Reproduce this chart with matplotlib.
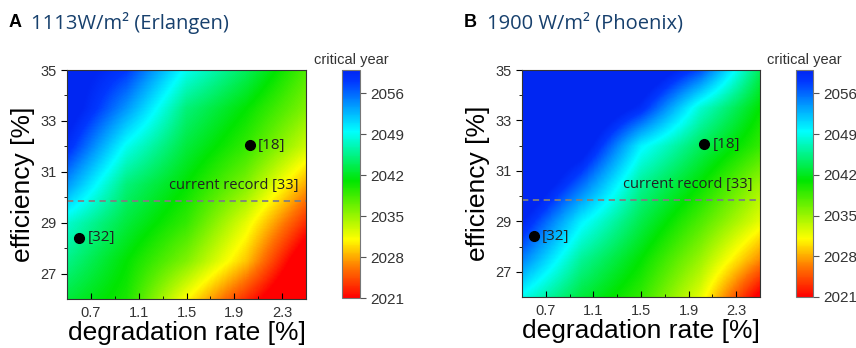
import numpy as np
import matplotlib
matplotlib.use("Agg")
import matplotlib.pyplot as plt
from matplotlib.colors import LinearSegmentedColormap

# grid nodes (degradation rate %, efficiency %)
degradation = [0.5, 1.0, 1.5, 2.0, 2.5]
efficiency = [26, 27.5, 29, 30.5, 32, 33.5, 35]

# critical year at each node, rows = efficiency, cols = degradation
years_erlangen = [
    [2043, 2040, 2031, 2023, 2015],
    [2045.5, 2041, 2036, 2029, 2018],
    [2048, 2043, 2039, 2032, 2023],
    [2054, 2045, 2041, 2036, 2028],
    [2059, 2049, 2043, 2039, 2033],
    [2062, 2054, 2045, 2041, 2036],
    [2062, 2058, 2049, 2044, 2038],
]
years_phoenix = [
    [2049, 2043, 2039, 2032, 2020],
    [2055, 2046, 2041, 2035, 2027],
    [2060, 2050, 2043.5, 2038, 2032],
    [2065, 2056, 2046, 2041, 2035],
    [2066, 2062, 2050, 2044, 2039],
    [2066, 2065, 2059, 2048, 2041],
    [2066, 2066, 2064, 2057, 2044],
]

panel_letters = ["A", "B"]
panel_titles = ["1113W/m² (Erlangen)", "1900 W/m² (Phoenix)"]

# literature points
point_rate = [0.6, 2.03]
point_eff = [28.4, 32.05]
point_labels = ["[32]", "[18]"]
record_eff = 29.85
record_label = "current record [33]"

x_ticks = [0.7, 1.1, 1.5, 1.9, 2.3]
y_ticks = [27, 29, 31, 33, 35]
cbar_ticks = [2021, 2028, 2035, 2042, 2049, 2056]
year_min, year_max = 2021, 2060

# rainbow map red -> yellow -> green -> cyan -> blue
stops = [(2021, (1, 0, 0)), (2026, (1, 0.45, 0)), (2031, (1, 1, 0)),
         (2041, (0, 0.9, 0)), (2049.5, (0, 1, 1)), (2054, (0, 0.6, 1)),
         (2058, (0, 0.22, 1)), (2060, (0, 0.15, 0.95))]
cmap = LinearSegmentedColormap.from_list(
    "crit", [((y - year_min) / (year_max - year_min), c) for y, c in stops])

plt.rcParams["font.family"] = ["Liberation Sans", "DejaVu Sans"]

fig = plt.figure(figsize=(8.56, 3.48), dpi=100)
W, H = 856, 348


def px_axes(x0, y0, x1, y1):
    return fig.add_axes([x0 / W, 1 - y1 / H, (x1 - x0) / W, (y1 - y0) / H])


layout = [
    dict(ax=(67, 70, 306, 299), cb=(342, 70, 360, 298), title_x=9, text_x=31),
    dict(ax=(522, 70, 760, 297), cb=(796, 70, 813, 297), title_x=464, text_x=487),
]

dx = (degradation[1] - degradation[0]) / 2
dy = (efficiency[1] - efficiency[0]) / 2
extent = [degradation[0] - dx, degradation[-1] + dx,
          efficiency[0] - dy, efficiency[-1] + dy]

for i, years in enumerate([years_erlangen, years_phoenix]):
    lay = layout[i]
    ax = px_axes(*lay["ax"])
    im = ax.imshow(np.array(years), origin="lower", extent=extent, aspect="auto",
                   cmap=cmap, vmin=year_min, vmax=year_max,
                   interpolation="bilinear", interpolation_stage="data")
    ax.set_xlim(degradation[0], degradation[-1])
    ax.set_ylim(efficiency[0], efficiency[-1])

    ax.axhline(record_eff, color="#808080", lw=1.3, ls=(0, (3.5, 2.5)))
    ax.text(2.44, record_eff + 0.3, record_label, ha="right", va="bottom",
            fontsize=10.5, color="#222222", family=["Open Sans", "DejaVu Sans"])
    ax.plot(point_rate, point_eff, "o", color="black", ms=7, clip_on=False)
    for xr, ye, lab in zip(point_rate, point_eff, point_labels):
        ax.text(xr + 0.07, ye, lab, ha="left", va="center", fontsize=11,
                color="#222222", family=["Open Sans", "DejaVu Sans"])

    ax.set_xticks(x_ticks)
    ax.set_xticks([0.9, 1.3, 1.7, 2.1], minor=True)
    ax.set_yticks(y_ticks)
    ax.set_yticks([28, 30, 32, 34], minor=True)
    ax.tick_params(axis="x", which="both", direction="in", labelsize=10.5,
                   labelcolor="#333333", pad=5)
    ax.tick_params(axis="y", which="both", direction="out", labelsize=10.5,
                   labelcolor="#333333")
    ax.tick_params(which="major", length=4)
    ax.tick_params(which="minor", length=2.5)
    for s in ax.spines.values():
        s.set_color("#333333")
    ax.set_xlabel("degradation rate [%]", fontsize=19, labelpad=1)
    ax.set_ylabel("efficiency [%]", fontsize=19, labelpad=4)

    cax = px_axes(*lay["cb"])
    cb = fig.colorbar(im, cax=cax, ticks=cbar_ticks)
    cb.outline.set_edgecolor("#777777")
    cax.tick_params(labelsize=11, length=4, color="#555555", labelcolor="#333333")
    cb_x = (lay["cb"][0] + lay["cb"][2]) / 2 / W
    fig.text(cb_x, 1 - 64 / H, "critical year", ha="center", va="baseline",
             fontsize=10.5, color="#333333")

    fig.text(lay["title_x"] / W, 1 - 27 / H, panel_letters[i], ha="left",
             va="baseline", fontsize=13, fontweight="bold", color="black")
    fig.text(lay["text_x"] / W, 1 - 29 / H, panel_titles[i], ha="left",
             va="baseline", fontsize=14.5, color="#17406d",
             family=["Open Sans", "DejaVu Sans"])

fig.savefig("out.png", dpi=100)
